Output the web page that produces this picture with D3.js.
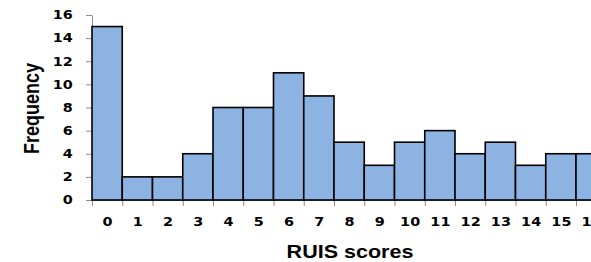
<!DOCTYPE html>
<html>
<head>
<meta charset="utf-8">
<script src="https://cdn.jsdelivr.net/npm/d3@7"></script>
<style>
  body { margin: 0; background: #fff; }
  svg { display: block; }
  .axis path, .axis line { stroke: #8c8c8c; }
  .tick text { font-family: "DejaVu Sans", Verdana, sans-serif; font-weight: bold; font-size: 12px; fill: #000; }
  .title { font-family: "Liberation Sans", Arial, sans-serif; font-weight: bold; fill: #000; }
</style>
</head>
<body>
<svg id="chart" width="591" height="262"></svg>
<script>
// RUIS score bins (0..16) and how many fell in each
var scores = [0, 1, 2, 3, 4, 5, 6, 7, 8, 9, 10, 11, 12, 13, 14, 15, 16];
var freq = [15, 2, 2, 4, 8, 8, 11, 9, 5, 3, 5, 6, 4, 5, 3, 4, 4];
var yTicks = [0, 2, 4, 6, 8, 10, 12, 14, 16];

var stretch = 1.2; // the original text looks squashed wide

var svg = d3.select("#chart");

var x = d3.scaleLinear().domain([0, 17]).range([92, 606.25]);
var y = d3.scaleLinear().domain([0, 16]).range([200, 15]);

// y axis
var yAxis = d3.axisLeft(y).tickValues(yTicks).tickSize(6).tickSizeOuter(0);
var gy = svg.append("g")
    .attr("class", "axis")
    .attr("transform", "translate(" + x(0) + ",0)")
    .call(yAxis);
gy.selectAll("text")
    .attr("x", -16)
    .attr("transform", "scale(" + stretch + ",1)");

// x axis: ticks on bin edges
var xAxis = d3.axisBottom(x).tickValues(d3.range(0, 18)).tickSize(6).tickSizeOuter(0).tickFormat("");
svg.append("g")
    .attr("class", "axis")
    .attr("transform", "translate(0," + y(0) + ")")
    .call(xAxis);

// labels at bin centres
var xLab = d3.axisBottom(x).tickValues(scores.map(function (d) { return d + 0.5; }))
    .tickSize(0).tickPadding(17.5)
    .tickFormat(function (d, i) { return scores[i]; });
var gl = svg.append("g")
    .attr("transform", "translate(0," + y(0) + ")")
    .call(xLab);
gl.select(".domain").remove();
gl.selectAll("text")
    .attr("transform", "scale(" + stretch + ",1)");

// bars
svg.selectAll("rect.bar")
    .data(freq)
  .enter().append("rect")
    .attr("class", "bar")
    .attr("x", function (d, i) { return x(scores[i]); })
    .attr("y", function (d) { return y(d); })
    .attr("width", function (d, i) { return x(scores[i] + 1) - x(scores[i]); })
    .attr("height", function (d) { return y(0) - y(d); })
    .attr("fill", "#8db3e2")
    .attr("stroke", "#000")
    .attr("stroke-width", 1.6);

// axis titles
svg.append("text")
    .attr("class", "title")
    .attr("text-anchor", "middle")
    .attr("font-size", 18)
    .attr("transform", "translate(39,108.5) scale(" + stretch + ",1) rotate(-90)")
    .text("Frequency");

svg.append("text")
    .attr("class", "title")
    .attr("text-anchor", "middle")
    .attr("font-size", 17.5)
    .attr("transform", "translate(350,257.5) scale(1.23,1)")
    .text("RUIS scores");
</script>
</body>
</html>
